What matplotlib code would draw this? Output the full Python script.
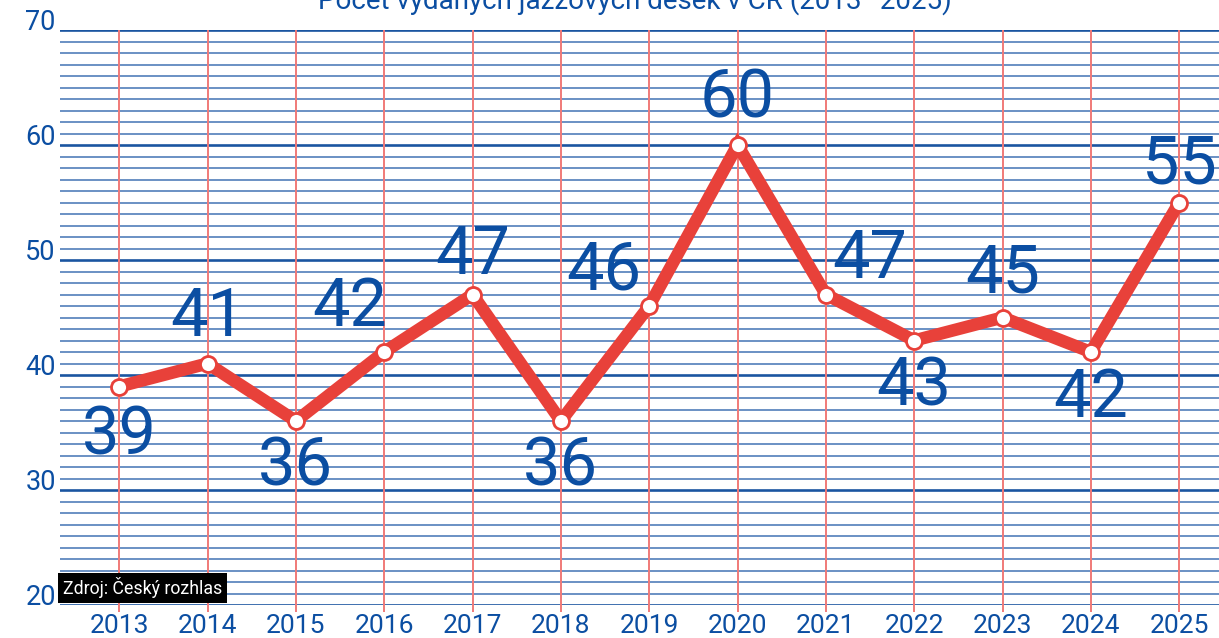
import numpy as np
import matplotlib.pyplot as plt
from matplotlib.ticker import MultipleLocator

years = [2013, 2014, 2015, 2016, 2017, 2018, 2019, 2020, 2021, 2022, 2023, 2024, 2025]
counts = [39, 41, 36, 42, 47, 36, 46, 60, 47, 43, 45, 42, 55]
# label offsets in pixels (dx, dy) relative to the point
offsets = [(0, -50), (0, 46), (0, -47), (-35, 44), (0, 38), (0, -47), (-45, 35),
           (0, 45), (44, 35), (0, -47), (0, 43), (0, -47), (0, 37)]

blue = '#0b4ea2'
red = '#e8413a'

plt.rcParams['font.family'] = ['Roboto', 'DejaVu Sans']

fig = plt.figure(figsize=(12.19, 6.38), dpi=100)
ax = fig.add_axes([60 / 1219, 1 - 605 / 638, 1 - 60 / 1219, 575 / 638])

ax.set_xlim(2012.33, 2025.45)
ax.set_ylim(20, 70)

for y in range(20, 71):
    if y % 10 == 0:
        ax.axhline(y, color='#1a55a0', lw=1.9, zorder=1)
    else:
        ax.axhline(y, color='#4273b4', lw=1.1, zorder=1)
for x in years:
    ax.axvline(x, color='#f07a78', lw=1.4, zorder=1.5)

ax.plot(years, counts, color=red, lw=9, solid_joinstyle='miter', zorder=3,
        clip_on=False)
ax.plot(years, counts, 'o', ms=11.5, mfc='white', mec=red, mew=2, zorder=4,
        clip_on=False)

for x, y, (dx, dy) in zip(years, counts, offsets):
    ax.annotate(str(y), (x, y), xytext=(dx, dy), textcoords='offset pixels',
                ha='center', va='center', fontsize=48, color=blue, zorder=5)

ax.set_xticks(years)
ax.set_xticklabels([str(y) for y in years])
ax.yaxis.set_major_locator(MultipleLocator(10))
ax.tick_params(axis='x', length=5, color='#f07a78', width=1.4, labelsize=19,
               labelcolor=blue, pad=1.5)
ax.tick_params(axis='y', length=0, labelsize=19.5, labelcolor=blue, pad=3)
for lab in ax.get_yticklabels():
    lab.set_va('baseline')
for s in ax.spines.values():
    s.set_visible(False)

fig.text(635 / 1219, 1 - 9 / 638, 'Počet vydaných jazzových desek v ČR (2013–2025)',
         ha='center', va='baseline', fontsize=20, color=blue)

ax.text(0.0025, 0.012, 'Zdroj: Český rozhlas', transform=ax.transAxes, fontsize=12.8,
        color='white', ha='left', va='bottom', zorder=6,
        bbox=dict(facecolor='black', edgecolor='none', pad=3.2))

fig.savefig('out.png', dpi=100)
